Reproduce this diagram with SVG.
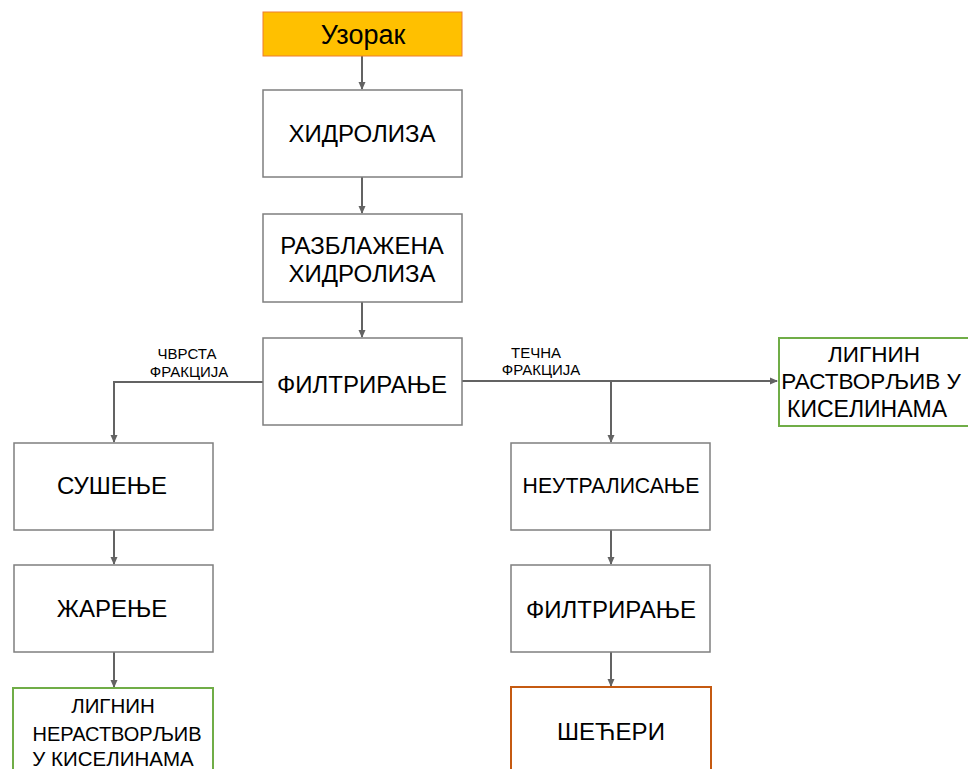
<svg xmlns="http://www.w3.org/2000/svg" width="968" height="769" viewBox="0 0 968 769">
<style>
.box{fill:#fff;stroke:#7f7f7f;stroke-width:1.5}
.green{fill:#fff;stroke:#70ad47;stroke-width:2}
.orange{fill:#fff;stroke:#c55a11;stroke-width:2}
.t{font-family:"Liberation Sans",Arial,sans-serif;font-size:24px;fill:#000;text-anchor:middle}
.s{font-family:"Liberation Sans",Arial,sans-serif;font-size:15px;fill:#000;text-anchor:middle}
.c{fill:none;stroke:#636363;stroke-width:2}
</style>
<defs>
<marker id="a" markerWidth="8" markerHeight="8" refX="7" refY="4" orient="auto" markerUnits="userSpaceOnUse">
<path d="M0,0.5 L8,4 L0,7.5 z" fill="#636363"/>
</marker>
</defs>
<g id="connectors">
<path class="c" d="M362,56 V89" marker-end="url(#a)"/>
<path class="c" d="M362,177 V213" marker-end="url(#a)"/>
<path class="c" d="M362,302 V337" marker-end="url(#a)"/>
<path class="c" d="M263,382 H114 V442" marker-end="url(#a)"/>
<path class="c" d="M462,381 H777" marker-end="url(#a)"/>
<path class="c" d="M611,381 V442" marker-end="url(#a)"/>
<path class="c" d="M114,530 V564" marker-end="url(#a)"/>
<path class="c" d="M114,652 V687" marker-end="url(#a)"/>
<path class="c" d="M611,530 V564" marker-end="url(#a)"/>
<path class="c" d="M611,652 V686" marker-end="url(#a)"/>
<text class="s" x="187" y="359">ЧВРСТА</text>
<text class="s" x="189" y="377">ФРАКЦИЈА</text>
<text class="s" x="536" y="358">ТЕЧНА</text>
<text class="s" x="541" y="375">ФРАКЦИЈА</text>
</g>
<g id="uzorak">
<rect x="263" y="12" width="199" height="44" fill="#ffc000" stroke="#ed7d31" stroke-width="1"/>
<text class="t" x="363" y="44" style="font-size:27px">Узорак</text>
</g>
<g id="hidroliza">
<rect class="box" x="263" y="90" width="199" height="87"/>
<text class="t" x="362" y="142">ХИДРОЛИЗА</text>
</g>
<g id="razblazena">
<rect class="box" x="263" y="214" width="199" height="88"/>
<text class="t" x="362" y="254">РАЗБЛАЖЕНА</text>
<text class="t" x="362" y="282">ХИДРОЛИЗА</text>
</g>
<g id="filtriranje1">
<rect class="box" x="263" y="338" width="199" height="87"/>
<text class="t" x="362" y="393">ФИЛТРИРАЊЕ</text>
</g>
<g id="lignin-rastvorljiv">
<rect class="green" x="779" y="338" width="195" height="88"/>
<text class="t" x="874" y="362" style="font-size:22.5px">ЛИГНИН</text>
<text class="t" x="871" y="389" style="font-size:22.5px">РАСТВОРЉИВ У</text>
<text class="t" x="867" y="417" style="font-size:23px">КИСЕЛИНАМА</text>
</g>
<g id="susenje">
<rect class="box" x="14" y="443" width="199" height="87"/>
<text class="t" x="112" y="494">СУШЕЊЕ</text>
</g>
<g id="zarenje">
<rect class="box" x="14" y="565" width="199" height="87"/>
<text class="t" x="112" y="617">ЖАРЕЊЕ</text>
</g>
<g id="lignin-nerastvorljiv">
<rect class="green" x="13" y="688" width="200" height="90"/>
<text class="t" x="113" y="713" style="font-size:20.5px">ЛИГНИН</text>
<text class="t" x="117" y="741" style="font-size:20px">НЕРАСТВОРЉИВ</text>
<text class="t" x="113" y="766" style="font-size:20.5px">У КИСЕЛИНАМА</text>
</g>
<g id="neutralisanje">
<rect class="box" x="511" y="443" width="199" height="87"/>
<text class="t" x="611" y="493" style="font-size:21.2px">НЕУТРАЛИСАЊЕ</text>
</g>
<g id="filtriranje2">
<rect class="box" x="511" y="565" width="199" height="87"/>
<text class="t" x="611" y="618">ФИЛТРИРАЊЕ</text>
</g>
<g id="seceri">
<rect class="orange" x="511" y="687" width="200" height="90"/>
<text class="t" x="611" y="740">ШЕЋЕРИ</text>
</g>
</svg>
